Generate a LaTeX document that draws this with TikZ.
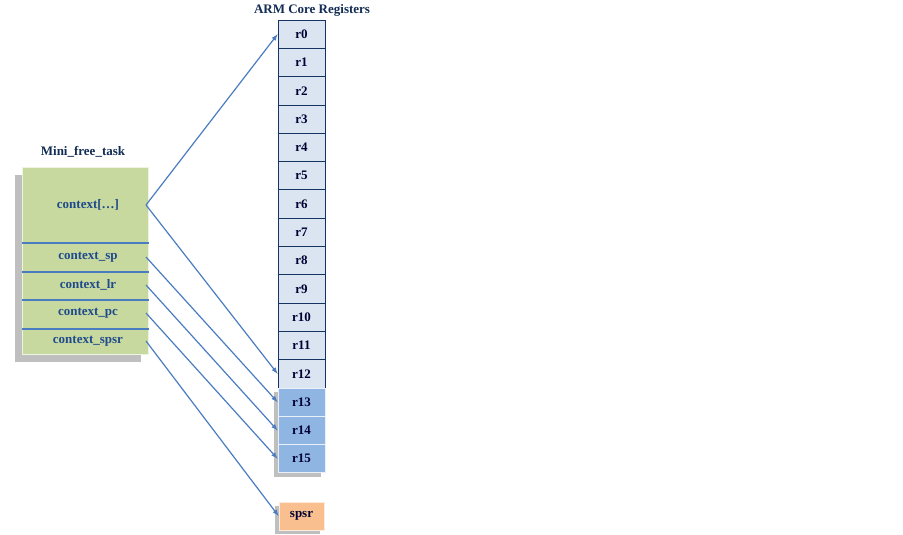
\documentclass[tikz,border=0pt]{standalone}
\usepackage{fontspec}
\setmainfont{Liberation Serif}
\usetikzlibrary{shadows}
\definecolor{TaskColor}{rgb}{0.78,0.85,0.62}
\definecolor{RegColor}{rgb}{0.86,0.90,0.95}
\definecolor{BankColor}{rgb}{0.56,0.71,0.89}
\definecolor{SpsrColor}{rgb}{0.98,0.75,0.56}
\definecolor{LineColor}{rgb}{0.29,0.49,0.75}
\definecolor{TextColor}{rgb}{0.12,0.29,0.55}
\tikzstyle{reg-base}=[rectangle,
                      draw=TextColor!70!black,
                      line width=0.8pt,
                      text centered,
                      font=\bfseries\fontsize{13}{15}\selectfont,
                      text=black!80!blue,
                      minimum width=47pt,
                      minimum height=28.3pt,
                      inner sep=0pt
                     ]
\tikzstyle{reg}=[reg-base, fill={RegColor}]
\tikzstyle{banked}=[reg-base, draw=white!80!BankColor, fill={BankColor}, drop shadow={shadow xshift=-4pt, shadow yshift=-4pt, opacity=0.5}]
\tikzstyle{field}=[font=\bfseries\fontsize{13}{15}\selectfont, text=TextColor]

\begin{document}
\begin{tikzpicture}[x=1pt, y=-1pt]
\useasboundingbox (0,0) rectangle (903,535);

\node at (85,261) (task) [rectangle, fill={TaskColor}, draw=white!70!TaskColor,
  minimum width=126pt, minimum height=187pt, drop shadow={shadow xshift=-7pt, shadow yshift=-7pt, opacity=0.5}] {};
\node at (83,152) (task_t) [font=\bfseries\fontsize{13}{15}\selectfont, text=TextColor!60!black] {Mini\_free\_task};
\draw[LineColor, line width=1.3pt] (22,243) -- (149,243);
\draw[LineColor, line width=1.3pt] (22,272) -- (149,272);
\draw[LineColor, line width=1.3pt] (22,300) -- (149,300);
\draw[LineColor, line width=1.3pt] (22,329) -- (149,329);

\node at (88,205) (ctx) [field] {context[\ldots]};
\node at (88,257) (ctx_sp) [field] {context\_sp};
\node at (88,285) (ctx_lr) [field] {context\_lr};
\node at (88,313) (ctx_pc) [field] {context\_pc};
\node at (88,341) (ctx_spsr) [field] {context\_spsr};
\coordinate (ctx_o) at (146,205);
\coordinate (ctx_sp_o) at (146,257);
\coordinate (ctx_lr_o) at (146,285);
\coordinate (ctx_pc_o) at (146,313);
\coordinate (ctx_spsr_o) at (146,341);

\node at (312,10) (regs_t) [font=\bfseries\fontsize{13}{15}\selectfont, text=TextColor!60!black] {ARM Core Registers};
\foreach \i in {0,...,12}
  \node at (301.5, 34.2 + 28.3*\i) (r\i) [reg] {r\i};
\foreach \i in {13,14,15}
  \node at (301.5, 34.2 + 28.3*\i) (r\i) [banked] {r\i};
\node at (301.5,516) (spsr) [reg-base, draw=white!70!SpsrColor, fill={SpsrColor},
  minimum width=45pt, minimum height=28pt, drop shadow={shadow xshift=-4pt, shadow yshift=-4pt, opacity=0.5}] {spsr};

\draw[-latex, LineColor, line width=1.2pt] (ctx_o) -- (r0.west);
\draw[-latex, LineColor, line width=1.2pt] (ctx_o) -- (r12.west);
\draw[-latex, LineColor, line width=1.2pt] (ctx_sp_o) -- (r13.west);
\draw[-latex, LineColor, line width=1.2pt] (ctx_lr_o) -- (r14.west);
\draw[-latex, LineColor, line width=1.2pt] (ctx_pc_o) -- (r15.west);
\draw[-latex, LineColor, line width=1.2pt] (ctx_spsr_o) -- (spsr.west);

\end{tikzpicture}
\end{document}
